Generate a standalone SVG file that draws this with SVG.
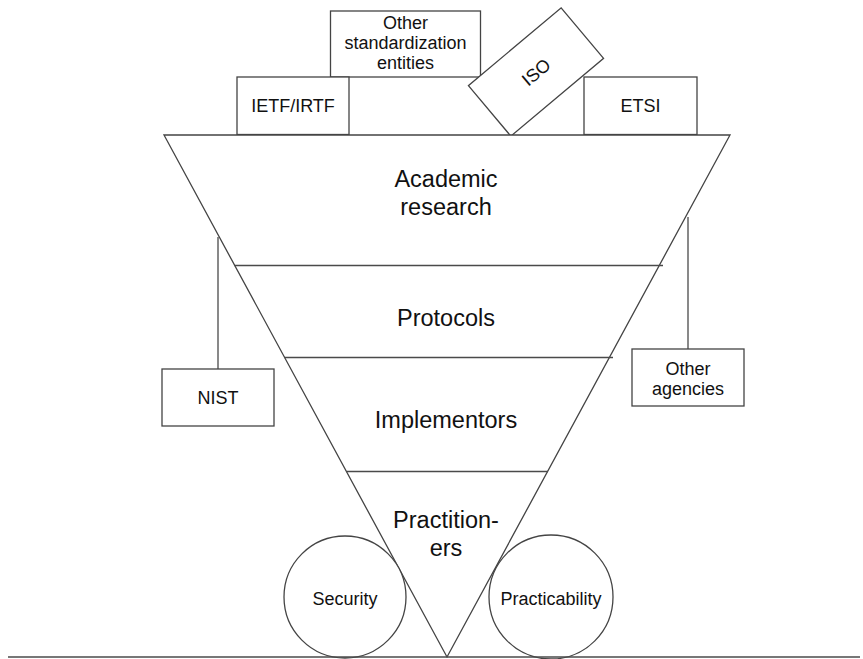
<svg xmlns="http://www.w3.org/2000/svg" width="863" height="659" viewBox="0 0 863 659">
  <style>
    .shape { fill: #ffffff; stroke: #444444; stroke-width: 1.3; }
    .line { fill: none; stroke: #4a4a4a; stroke-width: 1.3; }
    .lbl { font-family: "Liberation Sans", Arial, sans-serif; font-size: 18px; fill: #111111; text-anchor: middle; }
    .big { font-family: "Liberation Sans", Arial, sans-serif; font-size: 23.5px; fill: #111111; text-anchor: middle; }
  </style>
  <rect width="863" height="659" fill="#ffffff"/>

  <!-- standardization bodies sitting on the funnel rim -->
  <g id="other-standardization">
    <rect class="shape" x="330.5" y="11" width="150" height="66"/>
    <text class="lbl" x="405.5" y="29">Other</text>
    <text class="lbl" x="405.5" y="49">standardization</text>
    <text class="lbl" x="405.5" y="69">entities</text>
  </g>
  <g id="ietf">
    <rect class="shape" x="237" y="77" width="112" height="57.5"/>
    <text class="lbl" x="293" y="111.5">IETF/IRTF</text>
  </g>
  <g id="etsi">
    <rect class="shape" x="584" y="77" width="113" height="57.5"/>
    <text class="lbl" x="640.5" y="111.5">ETSI</text>
  </g>
  <g id="iso" transform="translate(536 72) rotate(-40)">
    <rect class="shape" x="-60.5" y="-33" width="121" height="66"/>
    <text class="lbl" x="0" y="6.5">ISO</text>
  </g>

  <!-- funnel with its four layers -->
  <g id="funnel">
    <polygon class="shape" points="164,135 730,135 447,657"/>
    <line class="line" x1="234.5" y1="265.5" x2="663" y2="265.5"/>
    <line class="line" x1="284.5" y1="357.5" x2="613" y2="357.5"/>
    <line class="line" x1="346.5" y1="471.5" x2="548" y2="471.5"/>
  </g>
  <g id="academic-research">
    <text class="big" x="446" y="187">Academic</text>
    <text class="big" x="446" y="215">research</text>
  </g>
  <g id="protocols">
    <text class="big" x="446" y="326">Protocols</text>
  </g>
  <g id="implementors">
    <text class="big" x="446" y="428">Implementors</text>
  </g>
  <g id="practitioners">
    <text class="big" x="446" y="528">Practition-</text>
    <text class="big" x="446" y="556">ers</text>
  </g>

  <!-- agencies hanging off the funnel sides -->
  <g id="connectors">
    <line class="line" x1="218" y1="237" x2="218" y2="369"/>
    <line class="line" x1="688" y1="217" x2="688" y2="349"/>
  </g>
  <g id="nist">
    <rect class="shape" x="162" y="369" width="112" height="57"/>
    <text class="lbl" x="218" y="404">NIST</text>
  </g>
  <g id="other-agencies">
    <rect class="shape" x="632" y="349" width="112" height="57"/>
    <text class="lbl" x="688" y="375">Other</text>
    <text class="lbl" x="688" y="395">agencies</text>
  </g>

  <!-- the two pillars under the tip -->
  <g id="security">
    <circle class="shape" cx="345" cy="597" r="61"/>
    <text class="lbl" x="345" y="605">Security</text>
  </g>
  <g id="practicability">
    <circle class="shape" cx="551" cy="597" r="62"/>
    <text class="lbl" x="551" y="605">Practicability</text>
  </g>

  <!-- ground line -->
  <line class="line" x1="8" y1="657" x2="860" y2="657"/>
</svg>
